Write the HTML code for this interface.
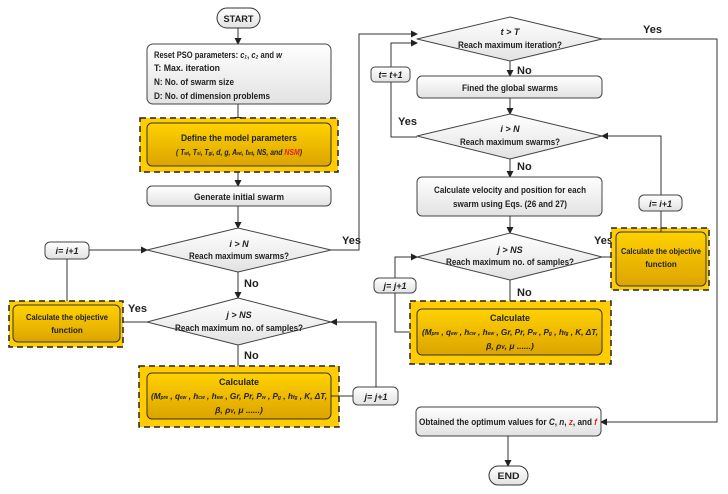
<!DOCTYPE html>
<html><head><meta charset="utf-8"><style>
html,body{margin:0;padding:0;background:#fff}
svg{display:block}
text{font-family:"Liberation Sans",sans-serif;font-weight:bold;fill:#222;font-size:9px}
.c{text-anchor:middle}
.i{font-style:italic}
.lbl{font-family:"Liberation Sans",sans-serif;font-size:11px;font-weight:bold}
.ln{stroke:#333;stroke-width:1;fill:none}
</style></head><body>
<svg width="728" height="494" viewBox="0 0 728 494" xmlns="http://www.w3.org/2000/svg">
<defs>
<linearGradient id="g" x1="0" y1="0" x2="0" y2="1"><stop offset="0" stop-color="#ffffff"/><stop offset="1" stop-color="#e2e2e2"/></linearGradient>
<linearGradient id="y" x1="0" y1="0" x2="0" y2="1"><stop offset="0" stop-color="#ffd200"/><stop offset="1" stop-color="#dca400"/></linearGradient>
<marker id="a" markerWidth="7" markerHeight="7" refX="6" refY="3.5" orient="auto" markerUnits="userSpaceOnUse"><path d="M0,0 L7,3.5 L0,7 z" fill="#222"/></marker>
</defs>

<!-- LEFT COLUMN -->
<rect x="217" y="8" width="43" height="20" rx="10" fill="url(#g)" stroke="#333"/>
<text x="238.5" y="22" class="c" textLength="30" lengthAdjust="spacingAndGlyphs">START</text>
<line class="ln" x1="238" y1="28" x2="238" y2="44" marker-end="url(#a)"/>

<rect x="147" y="44" width="184" height="60" rx="6" fill="url(#g)" stroke="#444"/>
<text x="154" y="58" textLength="128" lengthAdjust="spacingAndGlyphs">Reset PSO parameters: <tspan class="i">c₁</tspan>, <tspan class="i">c₂</tspan> and <tspan class="i">w</tspan></text>
<text x="154" y="71" textLength="66" lengthAdjust="spacingAndGlyphs">T: Max. iteration</text>
<text x="154" y="85" textLength="80" lengthAdjust="spacingAndGlyphs">N: No. of swarm size</text>
<text x="154" y="99" textLength="116" lengthAdjust="spacingAndGlyphs">D: No. of dimension problems</text>
<line class="ln" x1="238" y1="104" x2="238" y2="123" marker-end="url(#a)"/>

<rect x="140" y="118" width="198" height="54" fill="#ffcc00" stroke="#222" stroke-dasharray="6,4" stroke-width="1.5"/>
<rect x="147" y="123" width="184" height="43" rx="5" fill="url(#y)" stroke="#333"/>
<text x="239" y="141" class="c" textLength="116" lengthAdjust="spacingAndGlyphs">Define the model parameters</text>
<text x="239" y="155" class="c i" style="font-size:8px" textLength="126" lengthAdjust="spacingAndGlyphs">( T<tspan style="font-size:5px">wi</tspan>, T<tspan style="font-size:5px">si</tspan>, T<tspan style="font-size:5px">gi</tspan>, d, g, A<tspan style="font-size:5px">wi</tspan>, t<tspan style="font-size:5px">int</tspan>, NS, and <tspan fill="#e02020">NSM</tspan>)</text>
<line class="ln" x1="238" y1="172" x2="238" y2="186" marker-end="url(#a)"/>

<rect x="147" y="186" width="184" height="20" rx="5" fill="url(#g)" stroke="#444"/>
<text x="239" y="200" class="c" textLength="90" lengthAdjust="spacingAndGlyphs">Generate initial swarm</text>
<line class="ln" x1="238" y1="206" x2="238" y2="228" marker-end="url(#a)"/>

<polygon points="238,228 331,250 238,272 147,250" fill="url(#g)" stroke="#444" stroke-linejoin="round"/>
<text x="239" y="247" class="c i">i &gt; N</text>
<text x="239" y="259" class="c" textLength="100" lengthAdjust="spacingAndGlyphs">Reach maximum swarms?</text>

<rect x="45" y="242" width="44" height="17" rx="5" fill="url(#g)" stroke="#444"/>
<text x="67" y="254" class="c i">i= i+1</text>
<line class="ln" x1="89" y1="250" x2="147" y2="250" marker-end="url(#a)"/>
<line class="ln" x1="67" y1="259" x2="67" y2="305"/>

<text x="342" y="244" class="lbl">Yes</text>
<polyline class="ln" points="331,250 359,250 359,34 417,34" marker-end="url(#a)"/>

<line class="ln" x1="238" y1="272" x2="238" y2="298" marker-end="url(#a)"/>
<text x="244" y="287" class="lbl">No</text>

<polygon points="238,298 331,322 238,345 147,322" fill="url(#g)" stroke="#444" stroke-linejoin="round"/>
<text x="239" y="318" class="c i">j &gt; NS</text>
<text x="239" y="331" class="c" textLength="128" lengthAdjust="spacingAndGlyphs">Reach maximum no. of samples?</text>

<rect x="9" y="301" width="114" height="46" fill="#ffcc00" stroke="#222" stroke-dasharray="6,4" stroke-width="1.5"/>
<rect x="13" y="305" width="107" height="37" rx="5" fill="url(#y)" stroke="#333"/>
<text x="67" y="320" class="c" style="font-size:8px" textLength="82" lengthAdjust="spacingAndGlyphs">Calculate the objective</text>
<text x="67" y="333" class="c" style="font-size:8px">function</text>
<text x="128" y="312" class="lbl">Yes</text>
<line class="ln" x1="147" y1="322" x2="123" y2="322"/>

<line class="ln" x1="238" y1="345" x2="238" y2="373" marker-end="url(#a)"/>
<text x="244" y="359" class="lbl">No</text>

<rect x="139" y="366" width="200" height="61" fill="#ffcc00" stroke="#222" stroke-dasharray="6,4" stroke-width="1.5"/>
<rect x="147" y="373" width="184" height="46" rx="5" fill="url(#y)" stroke="#333"/>
<text x="239" y="385" class="c">Calculate</text>
<text x="239" y="399" class="c i" style="font-size:8.5px" textLength="176" lengthAdjust="spacingAndGlyphs">(M<tspan style="font-size:5px">pre</tspan> , q<tspan style="font-size:5px">ew</tspan> , h<tspan style="font-size:5px">cw</tspan> , h<tspan style="font-size:5px">ew</tspan> , Gr, Pr, P<tspan style="font-size:5px">w</tspan> , P<tspan style="font-size:5px">g</tspan> , h<tspan style="font-size:5px">fg</tspan> , K, ΔT,</text>
<text x="239" y="413" class="c i" style="font-size:8.5px">β, ρ<tspan style="font-size:5px">V</tspan>, μ ......)</text>

<line class="ln" x1="331" y1="396" x2="353" y2="396"/>
<rect x="353" y="387" width="45" height="18" rx="5" fill="url(#g)" stroke="#444"/>
<text x="376" y="400" class="c i">j= j+1</text>
<polyline class="ln" points="376,387 376,322 331,322" marker-end="url(#a)"/>

<!-- RIGHT COLUMN -->
<polygon points="510,17 602,39 510,61 417,39" fill="url(#g)" stroke="#444" stroke-linejoin="round"/>
<text x="510" y="35" class="c i">t &gt; T</text>
<text x="510" y="48" class="c" textLength="104" lengthAdjust="spacingAndGlyphs">Reach maximum iteration?</text>
<text x="643" y="33" class="lbl">Yes</text>
<polyline class="ln" points="602,39 717,39 717,422 601,422" marker-end="url(#a)"/>

<polyline class="ln" points="417,137 391,137 391,43 417,43" marker-end="url(#a)"/>
<rect x="371" y="67" width="39" height="15" rx="4" fill="url(#g)" stroke="#444"/>
<text x="390.5" y="78" class="c i">t= t+1</text>
<text x="398" y="125" class="lbl">Yes</text>

<line class="ln" x1="510" y1="61" x2="510" y2="76" marker-end="url(#a)"/>
<text x="517" y="74" class="lbl">No</text>
<rect x="417" y="76" width="185" height="22" rx="5" fill="url(#g)" stroke="#444"/>
<text x="510" y="91" class="c" textLength="96" lengthAdjust="spacingAndGlyphs">Fined the global swarms</text>
<line class="ln" x1="510" y1="98" x2="510" y2="114" marker-end="url(#a)"/>

<polygon points="510,114 602,136 510,159 417,136" fill="url(#g)" stroke="#444" stroke-linejoin="round"/>
<text x="510" y="132" class="c i">i &gt; N</text>
<text x="510" y="145" class="c" textLength="100" lengthAdjust="spacingAndGlyphs">Reach maximum swarms?</text>

<line class="ln" x1="510" y1="159" x2="510" y2="177" marker-end="url(#a)"/>
<text x="517" y="170" class="lbl">No</text>
<rect x="417" y="177" width="185" height="39" rx="5" fill="url(#g)" stroke="#444"/>
<text x="510" y="193" class="c" textLength="152" lengthAdjust="spacingAndGlyphs">Calculate velocity and position for each</text>
<text x="510" y="207" class="c" textLength="114" lengthAdjust="spacingAndGlyphs">swarm using Eqs. (26 and 27)</text>
<line class="ln" x1="510" y1="216" x2="510" y2="233" marker-end="url(#a)"/>

<polygon points="510,233 602,257 510,280 417,257" fill="url(#g)" stroke="#444" stroke-linejoin="round"/>
<text x="510" y="253" class="c i">j &gt; NS</text>
<text x="510" y="265" class="c" textLength="128" lengthAdjust="spacingAndGlyphs">Reach maximum no. of samples?</text>
<text x="594" y="244" class="lbl">Yes</text>

<rect x="611" y="228" width="98" height="62" fill="#ffcc00" stroke="#222" stroke-dasharray="6,4" stroke-width="1.5"/>
<rect x="616" y="232" width="90" height="54" rx="5" fill="url(#y)" stroke="#333"/>
<text x="661" y="254" class="c" style="font-size:8px" textLength="80" lengthAdjust="spacingAndGlyphs">Calculate the objective</text>
<text x="661" y="267" class="c" style="font-size:8px">function</text>
<line class="ln" x1="602" y1="257" x2="611" y2="257"/>

<polyline class="ln" points="661,232 661,136 602,136" marker-end="url(#a)"/>
<rect x="639" y="195" width="43" height="16" rx="5" fill="url(#g)" stroke="#444"/>
<text x="660.5" y="207" class="c i">i= i+1</text>

<polyline class="ln" points="417,332 395,332 395,257 417,257" marker-end="url(#a)"/>
<rect x="374" y="278" width="42" height="15" rx="5" fill="url(#g)" stroke="#444"/>
<text x="395" y="289" class="c i">j= j+1</text>

<line class="ln" x1="510" y1="280" x2="510" y2="309" marker-end="url(#a)"/>
<text x="517" y="296" class="lbl">No</text>

<rect x="410" y="301" width="201" height="63" fill="#ffcc00" stroke="#222" stroke-dasharray="6,4" stroke-width="1.5"/>
<rect x="417" y="309" width="185" height="46" rx="5" fill="url(#y)" stroke="#333"/>
<text x="510" y="321" class="c">Calculate</text>
<text x="510" y="335" class="c i" style="font-size:8.5px" textLength="176" lengthAdjust="spacingAndGlyphs">(M<tspan style="font-size:5px">pre</tspan> , q<tspan style="font-size:5px">ew</tspan> , h<tspan style="font-size:5px">cw</tspan> , h<tspan style="font-size:5px">ew</tspan> , Gr, Pr, P<tspan style="font-size:5px">w</tspan> , P<tspan style="font-size:5px">g</tspan> , h<tspan style="font-size:5px">fg</tspan> , K, ΔT,</text>
<text x="510" y="349" class="c i" style="font-size:8.5px">β, ρ<tspan style="font-size:5px">V</tspan>, μ ......)</text>

<rect x="416" y="407" width="185" height="29" rx="5" fill="url(#g)" stroke="#444"/>
<text x="508" y="425" class="c" textLength="178" lengthAdjust="spacingAndGlyphs">Obtained the optimum values for <tspan class="i">C</tspan>, <tspan class="i">n</tspan>, <tspan class="i" fill="#e02020">z</tspan>, and <tspan class="i" fill="#e02020">f</tspan></text>
<line class="ln" x1="508" y1="436" x2="508" y2="466" marker-end="url(#a)"/>
<rect x="489" y="466" width="39" height="19" rx="9.5" fill="url(#g)" stroke="#333"/>
<text x="508.5" y="479" class="c" textLength="22" lengthAdjust="spacingAndGlyphs">END</text>
</svg>
</body></html>
